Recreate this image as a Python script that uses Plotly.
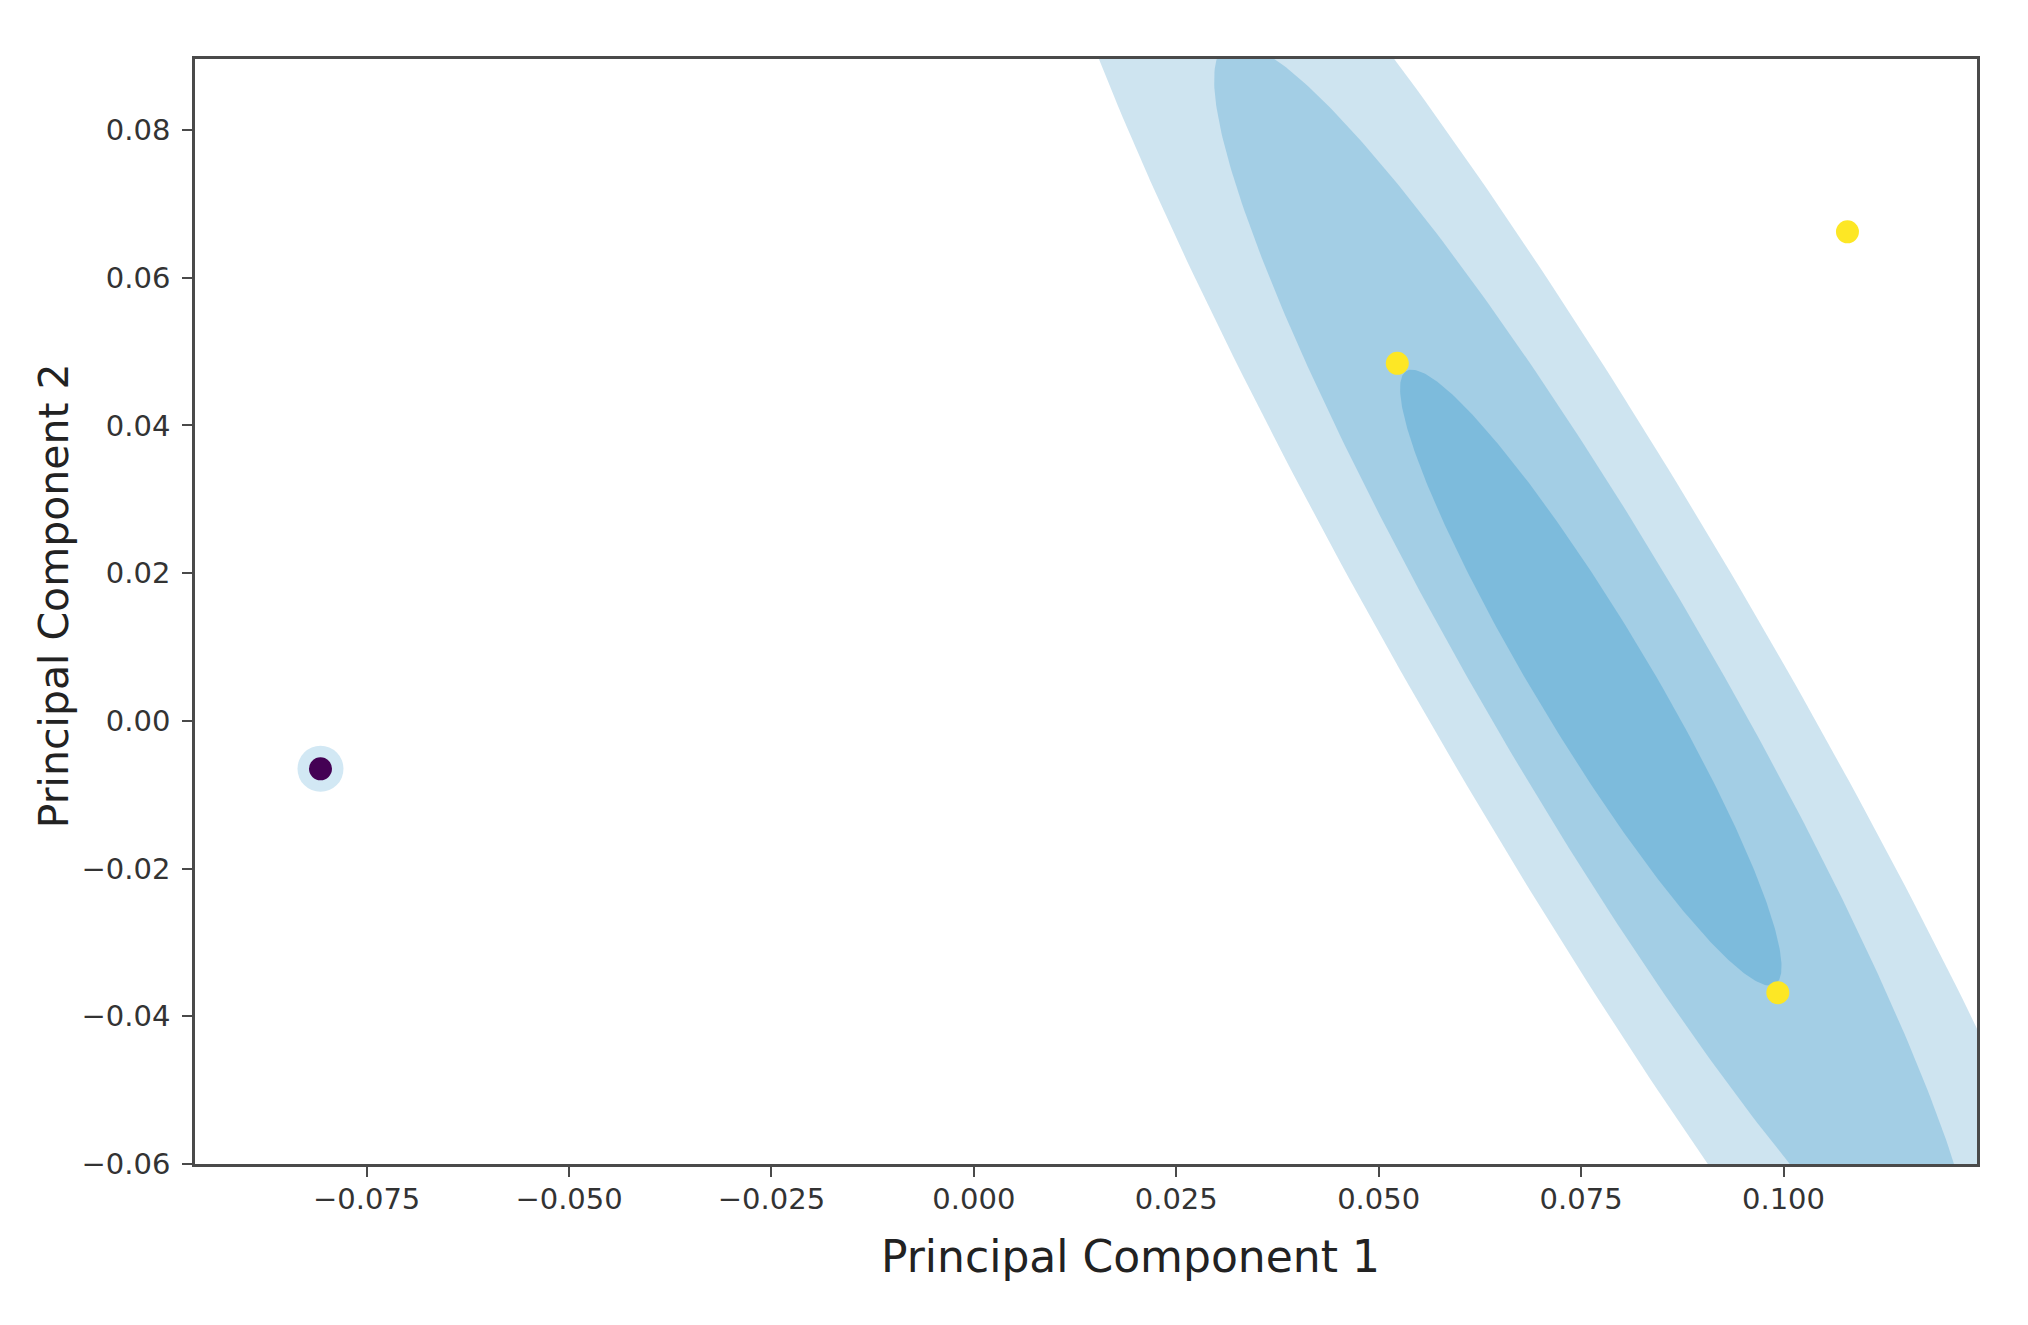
import numpy as np
import plotly.graph_objects as go

# ---------------- data ----------------
# PCA scores, class 0 (purple) and class 1 (yellow)
class0_pc1 = [-0.0807]
class0_pc2 = [-0.0065]
class1_pc1 = [0.0523, 0.0993, 0.1079]
class1_pc2 = [0.0484, -0.0368, 0.0662]

# KDE filled density levels (outer -> inner): elliptical regions
level_center_pc1 = [0.0770, 0.0768, 0.0762]
level_center_pc2 = [0.0060, 0.0060, 0.00585]
level_half_height = [0.1296, 0.0858, 0.0417]   # half extent along PC2
level_half_width = [0.0239, 0.0159, 0.00815]   # half chord along PC1 through centre
level_shear = [-0.518, -0.517, -0.530]          # dPC1/dPC2 of chord-centre line
level_colors = ["#cee4f0", "#a3cee5", "#7dbbdc"]

x_tickvals = [-0.075, -0.050, -0.025, 0.000, 0.025, 0.050, 0.075, 0.100]
x_ticktext = ["\u22120.075", "\u22120.050", "\u22120.025", "0.000", "0.025", "0.050", "0.075", "0.100"]
y_tickvals = [-0.06, -0.04, -0.02, 0.00, 0.02, 0.04, 0.06, 0.08]
y_ticktext = ["\u22120.06", "\u22120.04", "\u22120.02", "0.00", "0.02", "0.04", "0.06", "0.08"]
x_range = [-0.0962, 0.1239]
y_range = [-0.0600, 0.0896]

x_title = "Principal Component 1"
y_title = "Principal Component 2"

# ---------------- figure ----------------
fig = go.Figure()

t = np.linspace(0, 2 * np.pi, 400)
for cx, cy, hh, hw, m, col in zip(level_center_pc1, level_center_pc2, level_half_height,
                                  level_half_width, level_shear, level_colors):
    ys = cy + hh * np.sin(t)
    xs = cx + m * hh * np.sin(t) + hw * np.cos(t)
    fig.add_trace(go.Scatter(x=xs, y=ys, mode="lines", fill="toself", fillcolor=col,
                             line=dict(width=0, color=col), hoverinfo="skip", showlegend=False))

# small density halo around the purple point
fig.add_trace(go.Scatter(x=class0_pc1, y=class0_pc2, mode="markers",
                         marker=dict(size=46, color="#d2e8f4", line=dict(width=0)),
                         hoverinfo="skip", showlegend=False))
fig.add_trace(go.Scatter(x=class0_pc1, y=class0_pc2, mode="markers",
                         marker=dict(size=23, color="#440154", line=dict(width=0)),
                         showlegend=False))
fig.add_trace(go.Scatter(x=class1_pc1, y=class1_pc2, mode="markers",
                         marker=dict(size=23, color="#fde725", line=dict(width=0)),
                         showlegend=False))

axis_common = dict(showgrid=False, zeroline=False, showline=True, linecolor="#4a4a4a",
                   linewidth=2.5, mirror=True, ticks="outside", ticklen=10, tickwidth=2,
                   tickcolor="#4a4a4a", tickfont=dict(family="DejaVu Sans", size=29, color="#333333"))

fig.update_xaxes(range=x_range, tickmode="array", tickvals=x_tickvals, ticktext=x_ticktext,
                 ticklabelstandoff=-3, **axis_common)
fig.update_yaxes(range=y_range, tickmode="array", tickvals=y_tickvals, ticktext=y_ticktext,
                 ticklabelstandoff=6, **axis_common)

fig.add_annotation(text=x_title, xref="paper", yref="paper", x=0.525, y=-0.084,
                   xanchor="center", yanchor="middle", showarrow=False,
                   font=dict(family="DejaVu Sans", size=44, color="#222222"))
fig.add_annotation(text=y_title, xref="paper", yref="paper", x=-0.079, y=0.514,
                   xanchor="center", yanchor="middle", showarrow=False, textangle=-90,
                   font=dict(family="DejaVu Sans", size=41, color="#222222"))

fig.update_layout(width=2020, height=1317, margin=dict(l=187, r=51, t=51, b=161, autoexpand=False),
                  plot_bgcolor="white", paper_bgcolor="white", showlegend=False)

fig.write_html("out.html")
